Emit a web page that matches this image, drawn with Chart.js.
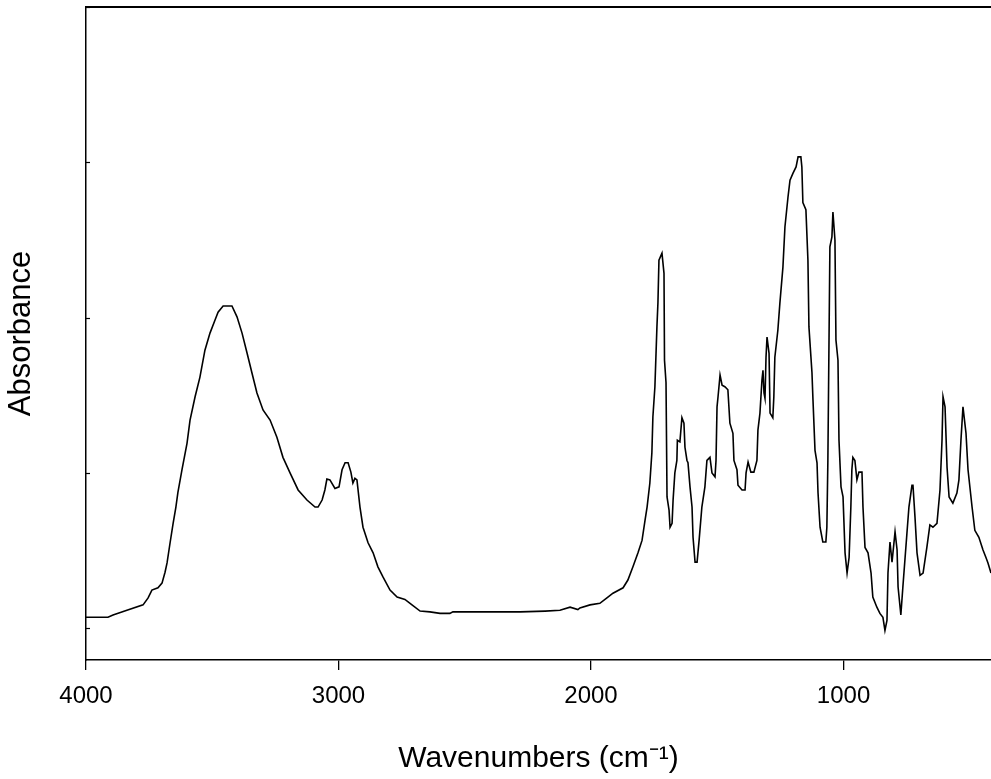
<!DOCTYPE html>
<html>
<head>
<meta charset="utf-8">
<script src="https://cdn.jsdelivr.net/npm/chart.js@4.4.1/dist/chart.umd.min.js"></script>
<style>
  body { margin: 0; background: #fff; overflow: hidden; }
</style>
</head>
<body>
<canvas id="spectrum" width="991" height="779"></canvas>
<script>
// wavenumbers (cm-1)
const wavenumbers = [
  4000, 3913, 3893, 3838, 3774, 3754, 3739, 3715, 3699, 3687, 3679, 3667, 3655, 3644, 3636, 3620,
  3600, 3588, 3568, 3549, 3529, 3509, 3489, 3477, 3457, 3422, 3402, 3382, 3362, 3343, 3323, 3299,
  3271, 3244, 3220, 3192, 3160, 3125, 3093, 3081, 3065, 3054, 3046, 3034, 3014, 2998, 2986, 2974,
  2962, 2951, 2943, 2935, 2927, 2915, 2903, 2883, 2863, 2844, 2824, 2796, 2768, 2737, 2709, 2677,
  2638, 2598, 2559, 2547, 2440, 2281, 2182, 2123, 2083, 2052, 2044, 2004, 1965, 1937, 1913, 1873,
  1854, 1834, 1814, 1798, 1786, 1778, 1767, 1759, 1755, 1747, 1739, 1735, 1731, 1719, 1711, 1709,
  1703, 1699, 1691, 1687, 1679, 1675, 1668, 1660, 1658, 1648, 1640, 1632, 1628, 1620, 1616, 1608,
  1600, 1596, 1588, 1580, 1572, 1561, 1549, 1541, 1529, 1521, 1509, 1505, 1501, 1497, 1489, 1481,
  1470, 1458, 1450, 1438, 1434, 1422, 1418, 1402, 1390, 1386, 1378, 1367, 1355, 1343, 1339, 1331,
  1323, 1319, 1315, 1311, 1307, 1303, 1295, 1291, 1280, 1276, 1272, 1260, 1252, 1240, 1232, 1220,
  1212, 1200, 1188, 1180, 1169, 1165, 1161, 1149, 1141, 1137, 1125, 1121, 1113, 1105, 1101, 1093,
  1082, 1070, 1066, 1062, 1054, 1046, 1042, 1034, 1030, 1022, 1018, 1010, 1002, 994, 986, 978,
  971, 967, 963, 955, 947, 939, 927, 923, 915, 903, 891, 884, 868, 856, 844, 836,
  828, 824, 816, 808, 796, 788, 784, 773, 765, 749, 741, 729, 725, 717, 709, 697,
  685, 670, 658, 646, 630, 618, 610, 606, 598, 590, 582, 567, 551, 543, 535, 527,
  515, 507, 491, 480, 464, 448, 436, 428, 416
];

// absorbance values, same order
const absorbance = [
  0.014, 0.014, 0.017, 0.023, 0.030, 0.039, 0.049, 0.052, 0.058, 0.072, 0.084, 0.110, 0.135, 0.156, 0.175, 0.204,
  0.238, 0.268, 0.298, 0.323, 0.358, 0.380, 0.397, 0.407, 0.415, 0.415, 0.401, 0.380, 0.354, 0.329, 0.303, 0.281,
  0.268, 0.246, 0.220, 0.200, 0.178, 0.165, 0.156, 0.156, 0.165, 0.178, 0.192, 0.191, 0.180, 0.182, 0.204, 0.213,
  0.213, 0.201, 0.187, 0.193, 0.191, 0.156, 0.130, 0.110, 0.097, 0.079, 0.066, 0.049, 0.040, 0.037, 0.030, 0.022,
  0.021, 0.019, 0.019, 0.021, 0.021, 0.021, 0.022, 0.023, 0.027, 0.024, 0.026, 0.030, 0.032, 0.039, 0.045, 0.052,
  0.062, 0.079, 0.097, 0.113, 0.139, 0.156, 0.187, 0.226, 0.272, 0.311, 0.388, 0.419, 0.474, 0.483, 0.457, 0.345,
  0.316, 0.169, 0.152, 0.130, 0.135, 0.165, 0.200, 0.216, 0.242, 0.240, 0.271, 0.264, 0.233, 0.216, 0.213, 0.182,
  0.156, 0.117, 0.085, 0.085, 0.113, 0.156, 0.182, 0.216, 0.220, 0.200, 0.195, 0.216, 0.285, 0.298, 0.326, 0.313,
  0.311, 0.307, 0.264, 0.251, 0.216, 0.204, 0.184, 0.178, 0.178, 0.200, 0.214, 0.201, 0.201, 0.216, 0.255, 0.277,
  0.320, 0.332, 0.303, 0.296, 0.349, 0.375, 0.354, 0.277, 0.271, 0.298, 0.349, 0.384, 0.419, 0.465, 0.517, 0.555,
  0.577, 0.586, 0.594, 0.607, 0.607, 0.594, 0.548, 0.539, 0.474, 0.388, 0.329, 0.294, 0.229, 0.213, 0.174, 0.130,
  0.111, 0.111, 0.130, 0.216, 0.491, 0.504, 0.536, 0.500, 0.371, 0.345, 0.242, 0.182, 0.169, 0.097, 0.071, 0.091,
  0.156, 0.204, 0.220, 0.216, 0.191, 0.201, 0.201, 0.156, 0.104, 0.097, 0.071, 0.040, 0.027, 0.019, 0.014, -0.003,
  0.010, 0.071, 0.111, 0.085, 0.124, 0.101, 0.053, 0.017, 0.053, 0.122, 0.156, 0.184, 0.184, 0.143, 0.097, 0.068,
  0.071, 0.104, 0.133, 0.130, 0.135, 0.178, 0.242, 0.298, 0.285, 0.207, 0.169, 0.161, 0.174, 0.191, 0.242, 0.285,
  0.251, 0.204, 0.156, 0.126, 0.117, 0.101, 0.091, 0.084, 0.071
];

const xTicks = [1000, 2000, 3000, 4000];
const yTicks = [0, 0.2, 0.4, 0.6, 0.8];

let points = wavenumbers.map((w, i) => ({ x: w, y: absorbance[i] }));

// top frame line + small inward ticks on the left axis
const framePlugin = {
  id: 'frame',
  afterDraw(chart) {
    const ctx = chart.ctx;
    const area = chart.chartArea;
    const yScale = chart.scales.y;
    ctx.save();
    ctx.strokeStyle = '#000';
    ctx.lineWidth = 2;
    ctx.beginPath();
    ctx.moveTo(area.left, area.top);
    ctx.lineTo(area.right, area.top);
    ctx.stroke();
    ctx.lineWidth = 1.2;
    yTicks.forEach(v => {
      let py = Math.round(yScale.getPixelForValue(v)) + 0.5;
      ctx.beginPath();
      ctx.moveTo(area.left, py);
      ctx.lineTo(area.left + 4, py);
      ctx.stroke();
    });
    ctx.restore();
  }
};

new Chart(document.getElementById('spectrum'), {
  type: 'line',
  data: {
    datasets: [{
      data: points,
      borderColor: '#000',
      borderWidth: 1.6,
      pointRadius: 0,
      tension: 0,
      fill: false
    }]
  },
  options: {
    responsive: false,
    animation: false,
    devicePixelRatio: 1,
    layout: { padding: { top: 7, left: 0, right: 0, bottom: 0 } },
    plugins: {
      legend: { display: false },
      tooltip: { enabled: false }
    },
    scales: {
      x: {
        type: 'linear',
        reverse: true,
        min: 416,
        max: 4000,
        afterBuildTicks: (scale) => { scale.ticks = xTicks.map(v => ({ value: v })); },
        afterFit: (scale) => { scale.height = 119; },
        grid: {
          display: true,
          drawOnChartArea: false,
          drawTicks: true,
          tickLength: 10,
          color: '#000',
          lineWidth: 1.3
        },
        border: { display: true, color: '#000', width: 1.5 },
        ticks: {
          color: '#000',
          padding: 12,
          maxRotation: 0,
          font: { family: 'Liberation Sans, Arial, sans-serif', size: 24 },
          callback: (v) => String(v)
        },
        title: {
          display: true,
          text: 'Wavenumbers (cm⁻¹)',
          color: '#000',
          font: { family: 'Liberation Sans, Arial, sans-serif', size: 30, lineHeight: 1.2 },
          padding: { top: 0, bottom: 2 }
        }
      },
      y: {
        type: 'linear',
        min: -0.041,
        max: 0.8,
        afterBuildTicks: (scale) => { scale.ticks = yTicks.map(v => ({ value: v })); },
        afterFit: (scale) => { scale.width = 86; },
        grid: { display: false },
        border: { display: true, color: '#000', width: 1.5 },
        ticks: { display: false },
        title: {
          display: true,
          text: 'Absorbance',
          color: '#000',
          font: { family: 'Liberation Sans, Arial, sans-serif', size: 31, lineHeight: 1.2 },
          padding: { top: 3, bottom: 0 }
        }
      }
    }
  },
  plugins: [framePlugin]
});
</script>
</body>
</html>
